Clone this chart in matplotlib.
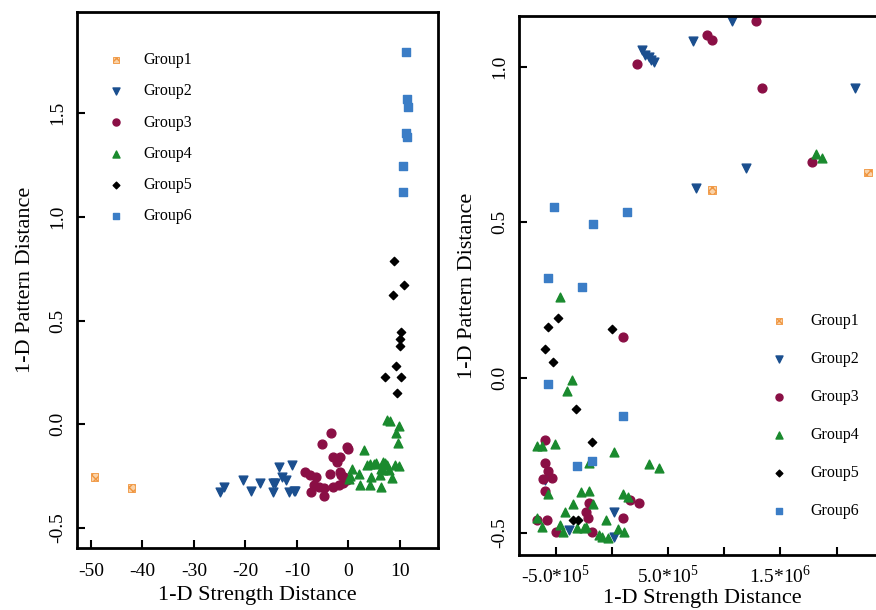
import numpy as np
import matplotlib
matplotlib.use('Agg')
from matplotlib import pyplot as plt

plt.rcParams['font.family'] = 'Liberation Serif'
plt.rcParams['mathtext.fontset'] = 'custom'
plt.rcParams['mathtext.rm'] = 'Liberation Serif'
plt.rcParams['axes.unicode_minus'] = False

# ---- left panel data (1-D Strength Distance, 1-D Pattern Distance) ----
L_g1_x = [-49.3, -42.1]
L_g1_y = [-0.255, -0.308]

L_g2_x = [-24.9, -24.1, -20.5, -18.9, -17.2, -14.6, -14.2, -14.6, -13.5, -12.9, -12.2, -10.9, -11.5, -10.6, -10.3]
L_g2_y = [-0.325, -0.304, -0.269, -0.321, -0.282, -0.282, -0.285, -0.328, -0.205, -0.256, -0.269, -0.194, -0.328, -0.321, -0.321]

L_g3_x = [-3.3, -5.2, -0.25, -0.06, -3.0, -1.6, -2.3, -8.5, -7.4, -6.3, -3.6, -1.7, -1.4, -0.9,
          -6.7, -5.8, -4.8, -2.9, -1.9, -1.0, -0.25, -7.2, -4.8]
L_g3_y = [-0.040, -0.096, -0.109, -0.120, -0.157, -0.157, -0.181, -0.229, -0.245, -0.253, -0.237, -0.229, -0.245, -0.256,
          -0.293, -0.301, -0.309, -0.301, -0.293, -0.285, -0.269, -0.325, -0.345]

L_g4_x = [7.5, 8.0, 9.8, 9.3, 9.6, 3.0, 0.7, 0.3, 2.0, 3.6, 4.1, 4.9, 5.4, 6.7, 7.2, 7.5, 9.1, 9.8,
          6.3, 6.8, 7.8, 4.4, 6.2, 8.5, 2.3, 4.1, 6.3, 0.1]
L_g4_y = [0.019, 0.015, -0.006, -0.042, -0.090, -0.122, -0.213, -0.250, -0.237, -0.197, -0.189, -0.189, -0.186, -0.180, -0.186, -0.197, -0.197, -0.200,
          -0.213, -0.221, -0.221, -0.253, -0.245, -0.258, -0.293, -0.293, -0.304, -0.261]

L_g5_x = [8.8, 10.8, 8.7, 10.2, 10.1, 10.1, 9.3, 7.2, 10.2, 9.5]
L_g5_y = [0.788, 0.673, 0.624, 0.447, 0.412, 0.380, 0.279, 0.227, 0.227, 0.150]

L_g6_x = [11.2, 11.4, 11.6, 11.1, 11.3, 10.6, 10.6]
L_g6_y = [1.793, 1.570, 1.530, 1.405, 1.385, 1.247, 1.119]

# ---- right panel data ----
R_g1_x = [8.9e5, 2.278e6]
R_g1_y = [0.604, 0.661]

R_g2_x = [1.07e6, 7.26e5, 2.72e5, 2.96e5, 3.32e5, 3.5e5, 3.79e5, 2.16e6, 1.195e6, 7.5e5, -5.93e5, 2.0e4, -3.77e5, 2.0e4]
R_g2_y = [1.148, 1.085, 1.055, 1.039, 1.033, 1.023, 1.017, 0.932, 0.674, 0.610, -0.329, -0.431, -0.490, -0.512]

R_g3_x = [1.287e6, 8.45e5, 8.9e5, 2.22e5, 1.337e6, 1.78e6, 1.03e5, -5.93e5, -5.93e5, -5.7e5, -5.34e5, -6.09e5, -5.93e5,
          -6.62e5, -5.73e5, -4.98e5, -2.02e5, -2.31e5, -2.08e5, -1.78e5, 1.63e5, 2.46e5, 1.03e5]
R_g3_y = [1.148, 1.103, 1.087, 1.010, 0.932, 0.693, 0.130, -0.200, -0.274, -0.299, -0.324, -0.326, -0.364,
          -0.458, -0.458, -0.498, -0.402, -0.431, -0.451, -0.498, -0.394, -0.404, -0.453]

R_g4_x = [1.818e6, 1.874e6, -4.6e5, -3.56e5, -3.95e5, -6.67e5, -6.23e5, -5.04e5, 2.3e4, -1.99e5, 3.32e5, 4.21e5,
          -5.64e5, -2.76e5, -1.99e5, 9.8e4, 1.48e5, -3.42e5, -1.64e5, -4.15e5, -5.3e4, -6.62e5, -6.23e5,
          -4.56e5, -4.3e5, -3.11e5, -2.46e5, -2.31e5, -1.1e5, -8.9e4, -3.6e4, 5.9e4, 1.09e5]
R_g4_y = [0.720, 0.708, 0.261, -0.007, -0.043, -0.220, -0.220, -0.213, -0.240, -0.276, -0.278, -0.292,
          -0.375, -0.369, -0.366, -0.374, -0.383, -0.407, -0.407, -0.433, -0.458, -0.453, -0.480,
          -0.476, -0.498, -0.485, -0.485, -0.480, -0.506, -0.512, -0.515, -0.488, -0.496]

R_g5_x = [-4.8e5, -5.64e5, 0.0, -5.93e5, -5.25e5, -3.18e5, -1.73e5, -3.47e5, -2.97e5]
R_g5_y = [0.191, 0.164, 0.156, 0.091, 0.052, -0.102, -0.206, -0.458, -0.458]

R_g6_x = [-5.13e5, -1.64e5, 1.39e5, -5.7e5, -2.67e5, -5.64e5, 1.03e5, -1.78e5, -3.06e5]
R_g6_y = [0.551, 0.495, 0.532, 0.322, 0.293, -0.020, -0.122, -0.268, -0.284]

groupNames = ['Group1', 'Group2', 'Group3', 'Group4', 'Group5', 'Group6']
rightTicks = [-5e5, 0, 5e5, 1e6, 1.5e6, 2e6]
rightTickLabels = ['-5.0*$10^{5}$', '', '5.0*$10^{5}$', '', '1.5*$10^{6}$', '']

# marker styles for each group
styles = [
    dict(marker='s', facecolor='#f9d2a8', edgecolor='#f0953e', hatch='xxxx', s=30, linewidths=0.6),
    dict(marker='v', color='#1b4f8f', s=40),
    dict(marker='o', color='#8a0f45', s=40),
    dict(marker='^', color='#1a8a2e', s=40),
    dict(marker='D', color='black', s=18),
    dict(marker='s', color='#3b7dc6', s=34),
]


def styleAxes(ax, xpad):
    for sp in ax.spines.values():
        sp.set_linewidth(2.0)
    ax.tick_params(direction='in', length=6, width=1.5, labelsize=14, pad=8)
    ax.tick_params(axis='x', pad=xpad)
    ax.tick_params(axis='y', labelrotation=90)
    for lab in ax.get_yticklabels():
        lab.set_va('center')


def main():
    fig = plt.figure(figsize=(8.76, 6.10), dpi=100)

    # left panel
    ax1 = fig.add_axes([77 / 876, 1 - 548 / 610, (438 - 77) / 876, (548 - 12) / 610])
    leftX = [L_g1_x, L_g2_x, L_g3_x, L_g4_x, L_g5_x, L_g6_x]
    leftY = [L_g1_y, L_g2_y, L_g3_y, L_g4_y, L_g5_y, L_g6_y]
    for i in range(6):
        ax1.scatter(leftX[i], leftY[i], label=groupNames[i], **styles[i])
    ax1.set_xlim(-52.7, 17.4)
    ax1.set_ylim(-0.596, 1.988)
    ax1.set_xticks([-50, -40, -30, -20, -10, 0, 10])
    ax1.set_yticks([-0.5, 0.0, 0.5, 1.0, 1.5])
    ax1.set_yticklabels(['-0.5', '0.0', '0.5', '1.0', '1.5'])
    styleAxes(ax1, 11)
    ax1.set_xlabel('1-D Strength Distance', fontsize=16, labelpad=4)
    ax1.set_ylabel('1-D Pattern Distance', fontsize=16)
    ax1.yaxis.set_label_coords(-0.115, 0.5)
    ax1.legend(loc='upper left', bbox_to_anchor=(0.086, 0.925), frameon=False, fontsize=11.5,
               scatterpoints=1, markerscale=0.8, handlelength=1, handletextpad=1.2, labelspacing=0.95,
               borderpad=0, borderaxespad=0)

    # right panel (runs past the right edge of the figure)
    ax2 = fig.add_axes([519 / 876, 1 - 555 / 610, (885 - 519) / 876, (555 - 16) / 610])
    rightX = [R_g1_x, R_g2_x, R_g3_x, R_g4_x, R_g5_x, R_g6_x]
    rightY = [R_g1_y, R_g2_y, R_g3_y, R_g4_y, R_g5_y, R_g6_y]
    for i in range(6):
        ax2.scatter(rightX[i], rightY[i], label=groupNames[i], **styles[i])
    ax2.set_xlim(-8.25e5, 2.43e6)
    ax2.set_ylim(-0.571, 1.1645)
    ax2.set_xticks(rightTicks)
    ax2.set_xticklabels(rightTickLabels)
    ax2.set_yticks([-0.5, 0.0, 0.5, 1.0])
    ax2.set_yticklabels(['-0.5', '0.0', '0.5', '1.0'])
    styleAxes(ax2, 7)
    ax2.set_xlabel('1-D Strength Distance', fontsize=16, labelpad=1)
    ax2.set_ylabel('1-D Pattern Distance', fontsize=16)
    ax2.yaxis.set_label_coords(-0.115, 0.5)
    ax2.legend(loc='upper left', bbox_to_anchor=(0.689, 0.449), frameon=False, fontsize=11.5,
               scatterpoints=1, markerscale=0.8, handlelength=1, handletextpad=1.45, labelspacing=1.38,
               borderpad=0, borderaxespad=0)

    fig.savefig('out.png', dpi=100)


if __name__ == '__main__':
    main()
